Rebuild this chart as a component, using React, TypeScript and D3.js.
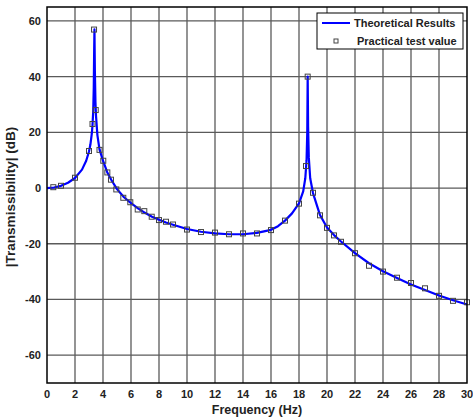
import React from "react";
import * as d3 from "d3";

const theoFreq = [0, 0.5, 1, 1.5, 2, 2.5, 2.8, 3.0, 3.1, 3.2, 3.25, 3.3, 3.34, 3.37, 3.39, 3.42, 3.46, 3.5, 3.6, 3.75, 4.0, 4.3, 4.6, 5, 5.5, 6, 6.5, 7, 7.5, 8, 8.5, 9, 10, 11, 12, 13, 14, 15, 16, 16.5, 17, 17.5, 18, 18.3, 18.45, 18.54, 18.59, 18.62, 18.65, 18.7, 18.8, 19, 19.5, 20, 20.5, 21, 22, 23, 24, 25, 26, 27, 28, 29, 30];
const theoDb = [0, 0.2, 0.8, 1.9, 3.6, 6.6, 9.8, 13.1, 15.6, 19.5, 22.6, 27.5, 36, 50, 57, 42, 31, 26, 19, 13.9, 9.8, 5.7, 2.9, -0.4, -3.3, -5.4, -7.3, -8.9, -10.3, -11.4, -12.4, -13.2, -14.7, -15.7, -16.3, -16.6, -16.6, -16.1, -15.0, -13.7, -11.7, -9.1, -5.5, -1.2, 3.5, 10, 20, 40, 22, 11, 3.5, -1.8, -9.7, -14.2, -16.9, -19.2, -23.4, -27.0, -29.9, -32.3, -34.6, -36.6, -38.6, -40.3, -41.8];

const practFreq = [0.45, 1, 2, 3, 3.25, 3.36, 3.48, 3.75, 4.02, 4.31, 4.57, 4.95, 5.45, 5.95, 6.48, 6.95, 7.48, 8, 8.5, 9, 10, 11, 12, 13, 14, 15, 16, 17, 18, 18.5, 18.62, 19, 19.5, 20, 20.5, 21, 22, 23, 24, 25, 26, 27, 28, 29, 30];
const practDb = [0.3, 0.8, 3.7, 13.3, 23, 56.9, 28, 13.7, 9.8, 5.6, 3.0, -0.5, -3.5, -5.1, -7.7, -8.3, -10.3, -11.5, -12.1, -13.1, -14.9, -15.8, -16.0, -16.6, -16.3, -16.3, -15.1, -11.7, -5.6, 7.9, 40, -1.7, -9.8, -14.3, -17, -19.3, -23.4, -27.9, -30.0, -32.2, -34.1, -36, -38.7, -40.5, -41];

const xTicks = [0, 2, 4, 6, 8, 10, 12, 14, 16, 18, 20, 22, 24, 26, 28, 30];
const yTicks = [-60, -40, -20, 0, 20, 40, 60];

const xLabel = "Frequency (Hz)";
const yLabel = "|Transmissibility| (dB)";
const legendLabels = ["Theoretical Results", "Practical test value"];

export default function App() {
  const W = 473, H = 420;
  const left = 47, right = 467, top = 7, bottom = 383;
  const x = d3.scaleLinear().domain([0, 30]).range([left, right]);
  const y = d3.scaleLinear().domain([-70, 65]).range([bottom, top]);
  const theo = theoFreq.map((f, i) => [f, theoDb[i]] as [number, number]);
  const line = d3.line<[number, number]>().x(d => x(d[0])).y(d => y(d[1]));
  const font = "'Liberation Sans', Arial, sans-serif";
  const gridColor = "#5a5a5a";
  const ms = 5;
  return (
    <svg width={W} height={H} style={{ position: "absolute", left: 0, top: 0, background: "#fff" }} fontFamily={font}>
      <rect x={0} y={0} width={W} height={H} fill="#fff" />
      <g>
        {xTicks.filter(t => t > 0 && t < 30).map(t => (
          <line key={"gx" + t} x1={x(t)} x2={x(t)} y1={top} y2={bottom} stroke={gridColor} strokeWidth={1.3} />
        ))}
        {yTicks.map(t => (
          <line key={"gy" + t} x1={left} x2={right} y1={y(t)} y2={y(t)} stroke={gridColor} strokeWidth={1.3} />
        ))}
      </g>
      <path d={line(theo) || ""} fill="none" stroke="#0000ff" strokeWidth={2.2} strokeLinejoin="round" />
      <g>
        {practFreq.map((f, i) => (
          <rect key={"m" + i} x={x(f) - ms / 2} y={y(practDb[i]) - ms / 2} width={ms} height={ms} fill="none" stroke="#444" strokeWidth={1} />
        ))}
      </g>
      <rect x={left} y={top} width={right - left} height={bottom - top} fill="none" stroke="#000" strokeWidth={1.5} />
      <g fontSize={11} fontWeight="bold" fill="#222">
        {xTicks.map(t => (
          <text key={"xt" + t} x={x(t)} y={bottom + 15} textAnchor="middle">{t}</text>
        ))}
        {yTicks.map(t => (
          <text key={"yt" + t} x={left - 6} y={y(t) + 4} textAnchor="end">{t}</text>
        ))}
      </g>
      <text x={(left + right) / 2} y={414} textAnchor="middle" fontSize={12.5} fontWeight="bold" fill="#222">{xLabel}</text>
      <text transform={`translate(15,${(top + bottom) / 2 + 2}) rotate(-90)`} textAnchor="middle" fontSize={13.5} fontWeight="bold" fill="#222">{yLabel}</text>
      <g>
        <rect x={317} y={13} width={146} height={36} fill="#fff" stroke="#000" strokeWidth={1} />
        <line x1={322} x2={350} y1={23} y2={23} stroke="#0000ff" strokeWidth={2} />
        <rect x={336 - 2} y={41 - 2} width={4} height={4} fill="none" stroke="#444" strokeWidth={1} />
        <text x={354} y={27} fontSize={11} fontWeight="bold" fill="#222">{legendLabels[0]}</text>
        <text x={357} y={45} fontSize={11} fontWeight="bold" fill="#222">{legendLabels[1]}</text>
      </g>
    </svg>
  );
}
